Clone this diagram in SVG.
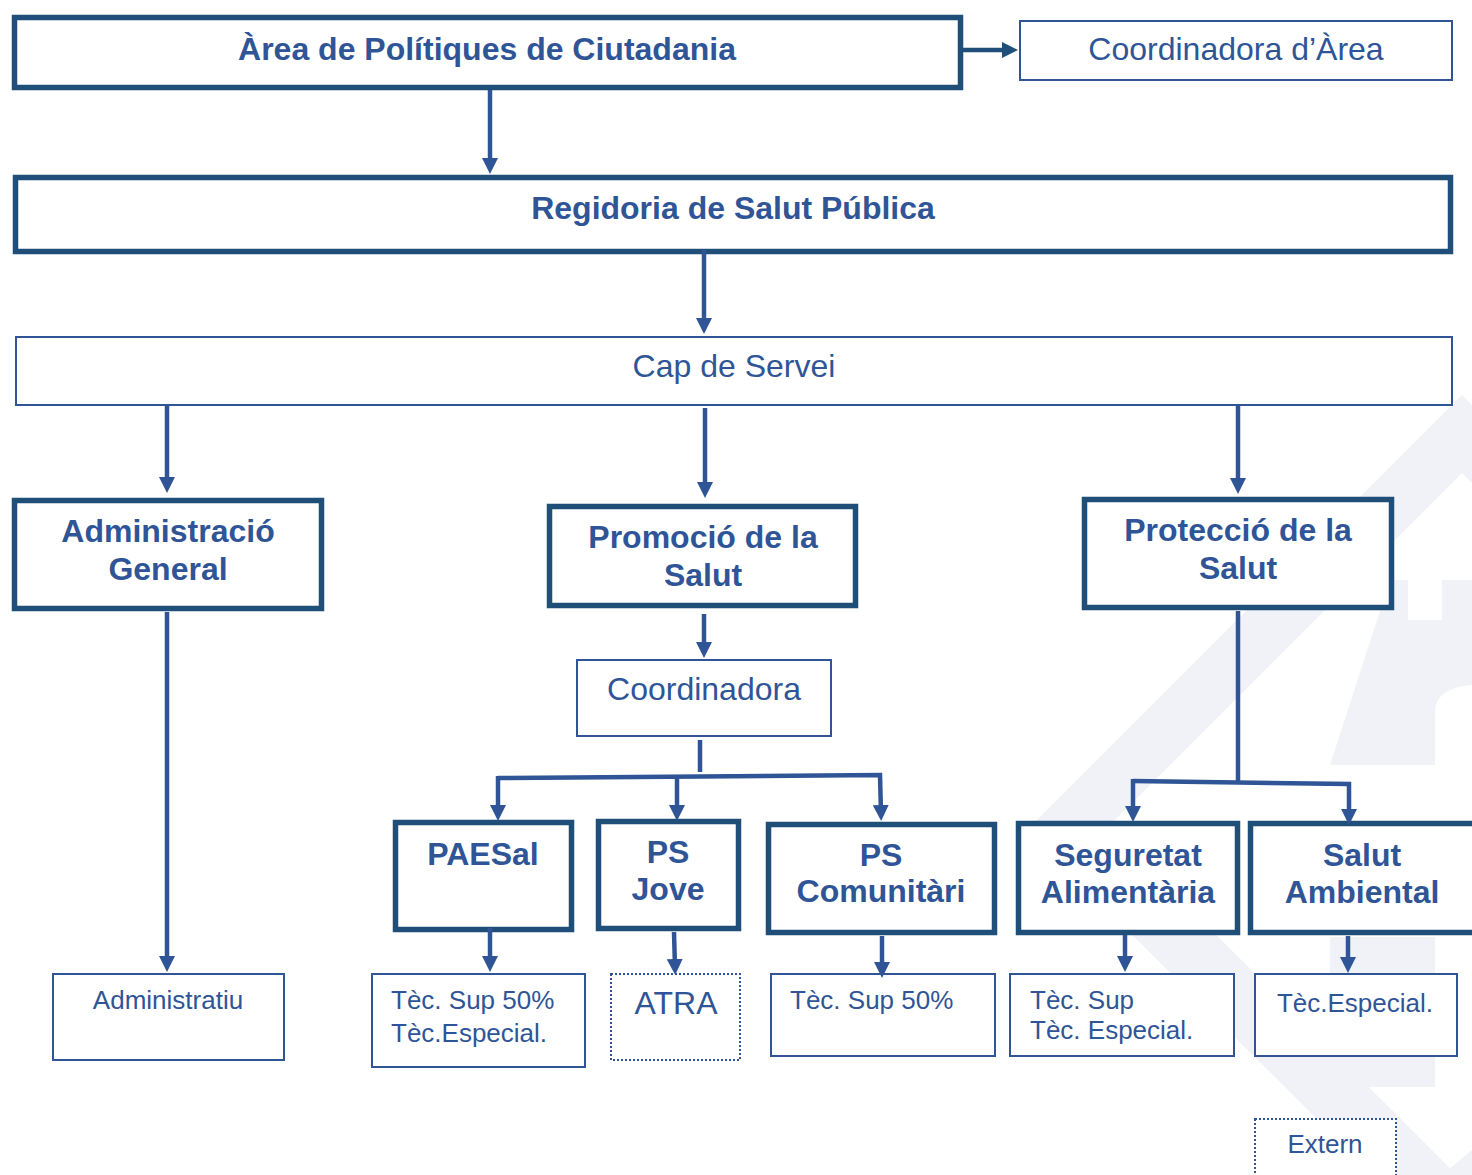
<svg xmlns="http://www.w3.org/2000/svg" width="1472" height="1175" viewBox="0 0 1472 1175">
<style>
.thick{fill:#fff;stroke:#1f4e79;stroke-width:5.5}
.thin{fill:#fff;stroke:#2f5597;stroke-width:2}
.dot{fill:#fff;stroke:#2f5597;stroke-width:2;stroke-dasharray:2 2}
.b{font-family:"Liberation Sans",Arial,sans-serif;font-weight:bold;font-size:32px;fill:#2f5597;text-anchor:middle}
.r{font-family:"Liberation Sans",Arial,sans-serif;font-size:32px;fill:#2f5597;text-anchor:middle}
.s{font-family:"Liberation Sans",Arial,sans-serif;font-size:26px;fill:#2f5597}
.sm{text-anchor:middle}
.conn line,.conn polyline{stroke:#2f5597;stroke-width:4.5;fill:none}
.wm{fill:#f1f2f8}
</style>
<defs>
<marker id="ah" viewBox="0 0 16 16" refX="9" refY="8" markerWidth="16" markerHeight="16" markerUnits="userSpaceOnUse" orient="auto">
<path d="M0,0 L16,8 L0,16 z" fill="#2f5597"/>
</marker>
<marker id="ahd" viewBox="0 0 16 16" refX="9" refY="8" markerWidth="16" markerHeight="16" markerUnits="userSpaceOnUse" orient="auto">
<path d="M0,0 L16,8 L0,16 z" fill="#1f4e79"/>
</marker>
</defs>
<rect width="1472" height="1175" fill="#fff"/>
<g id="watermark">
<polygon class="wm" points="1462,395 1472,405 1472,483 1462,473 1108,827 1457,1175 1373,1175 1027,830"/>
<path class="wm" d="M1390,580 L1408,580 L1408,620 L1442,620 L1442,580 L1472,580 L1472,685 Q1435,688 1435,712 L1435,765 L1330,765 Z"/>
<rect class="wm" x="1330" y="937" width="105" height="150"/>
<polygon class="wm" points="1472,1150 1472,1175 1442,1175"/>
</g>
<g id="n-area"><rect class="thick" x="14.5" y="17.5" width="946" height="70"/><text class="b" x="487" y="60">Àrea de Polítiques de Ciutadania</text></g>
<g id="n-coordarea"><rect class="thin" x="1020" y="21" width="432" height="59"/><text class="r" x="1236" y="60">Coordinadora d’Àrea</text></g>
<g id="n-regidoria"><rect class="thick" x="15.5" y="177.5" width="1435" height="74"/><text class="b" x="733" y="219">Regidoria de Salut Pública</text></g>
<g id="n-cap"><rect class="thin" x="16" y="337" width="1436" height="68"/><text class="r" x="734" y="377">Cap de Servei</text></g>
<g id="n-admingen"><rect class="thick" x="14.5" y="500.5" width="307" height="108"/><text class="b" x="168" y="542">Administració</text><text class="b" x="168" y="580">General</text></g>
<g id="n-promocio"><rect class="thick" x="549.5" y="506.5" width="306" height="99"/><text class="b" x="703" y="548">Promoció de la</text><text class="b" x="703" y="586">Salut</text></g>
<g id="n-proteccio"><rect class="thick" x="1084.5" y="499.5" width="307" height="108"/><text class="b" x="1238" y="541">Protecció de la</text><text class="b" x="1238" y="579">Salut</text></g>
<g id="n-coord"><rect class="thin" x="577" y="660" width="254" height="76"/><text class="r" x="704" y="700">Coordinadora</text></g>
<g id="n-paesal"><rect class="thick" x="395.5" y="822.5" width="176" height="107"/><text class="b" x="483" y="865">PAESal</text></g>
<g id="n-psjove"><rect class="thick" x="598.5" y="821.5" width="140" height="107"/><text class="b" x="668" y="863">PS</text><text class="b" x="668" y="900">Jove</text></g>
<g id="n-pscom"><rect class="thick" x="768.5" y="824.5" width="226" height="108"/><text class="b" x="881" y="866">PS</text><text class="b" x="881" y="902">Comunitàri</text></g>
<g id="n-seguretat"><rect class="thick" x="1018.5" y="823.5" width="219" height="109"/><text class="b" x="1128" y="866">Seguretat</text><text class="b" x="1128" y="903">Alimentària</text></g>
<g id="n-salutamb"><rect class="thick" x="1250.5" y="823.5" width="240" height="109"/><text class="b" x="1362" y="866">Salut</text><text class="b" x="1362" y="903">Ambiental</text></g>
<g id="n-administratiu"><rect class="thin" x="53" y="974" width="231" height="86"/><text class="s sm" x="168" y="1009">Administratiu</text></g>
<g id="n-tec1"><rect class="thin" x="372" y="974" width="213" height="93"/><text class="s" x="391" y="1009">Tèc. Sup 50%</text><text class="s" x="391" y="1042">Tèc.Especial.</text></g>
<g id="n-atra"><rect class="dot" x="611" y="974" width="129" height="86"/><text class="r" x="676" y="1014" font-size="31">ATRA</text></g>
<g id="n-tec2"><rect class="thin" x="771" y="974" width="224" height="82"/><text class="s" x="790" y="1009">Tèc. Sup 50%</text></g>
<g id="n-tec3"><rect class="thin" x="1010" y="974" width="224" height="82"/><text class="s" x="1030" y="1009">Tèc. Sup</text><text class="s" x="1030" y="1039">Tèc. Especial.</text></g>
<g id="n-tec4"><rect class="thin" x="1255" y="974" width="202" height="82"/><text class="s sm" x="1355" y="1012">Tèc.Especial.</text></g>
<g id="n-extern"><rect class="dot" x="1255" y="1119" width="141" height="70"/><text class="s sm" x="1325" y="1153">Extern</text></g>
<g id="connectors" class="conn">
<line x1="963" y1="50" x2="1011" y2="50" style="stroke:#1f4e79" marker-end="url(#ahd)"/>
<line x1="490" y1="90" x2="490" y2="167" marker-end="url(#ah)"/>
<line x1="704" y1="250" x2="704" y2="327" marker-end="url(#ah)"/>
<line x1="167" y1="405" x2="167" y2="486" marker-end="url(#ah)"/>
<line x1="705" y1="408" x2="705" y2="491" marker-end="url(#ah)"/>
<line x1="1238" y1="405" x2="1238" y2="487" marker-end="url(#ah)"/>
<line x1="167" y1="612" x2="167" y2="965" marker-end="url(#ah)"/>
<line x1="704" y1="614" x2="704" y2="651" marker-end="url(#ah)"/>
<line x1="700" y1="740" x2="700" y2="772"/>
<polyline points="498,778 880,775 881,814" marker-end="url(#ah)"/>
<line x1="498" y1="776" x2="498" y2="814" marker-end="url(#ah)"/>
<line x1="677" y1="777" x2="677" y2="814" marker-end="url(#ah)"/>
<line x1="1238" y1="611" x2="1238" y2="782"/>
<polyline points="1133,781 1349,784 1349,818" marker-end="url(#ah)"/>
<line x1="1133" y1="779" x2="1133" y2="815" marker-end="url(#ah)"/>
<line x1="490" y1="928" x2="490" y2="965" marker-end="url(#ah)"/>
<line x1="674" y1="932" x2="675" y2="968" marker-end="url(#ah)"/>
<line x1="882" y1="936" x2="882" y2="971" marker-end="url(#ah)"/>
<line x1="1125" y1="935" x2="1125" y2="965" marker-end="url(#ah)"/>
<line x1="1348" y1="936" x2="1348" y2="966" marker-end="url(#ah)"/>
</g>
</svg>
